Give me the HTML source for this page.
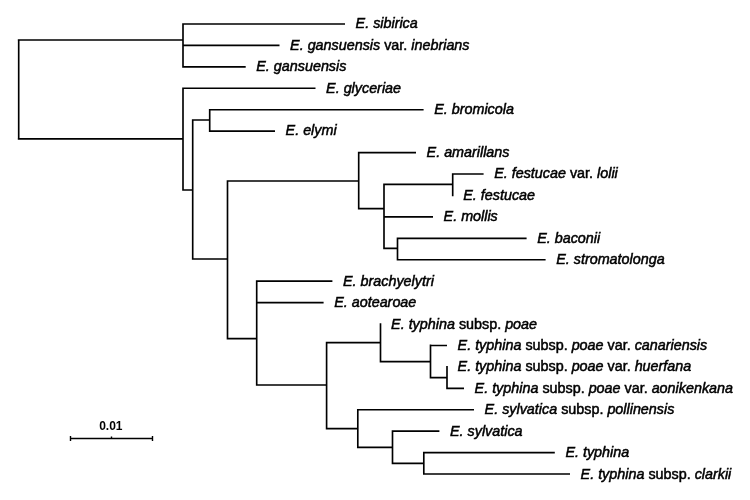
<!DOCTYPE html>
<html><head><meta charset="utf-8"><style>
html,body{margin:0;padding:0;background:#fff;width:750px;height:500px;overflow:hidden}
svg{display:block;will-change:transform}
text{font-family:"Liberation Sans",sans-serif;font-size:14.35px;fill:#000;stroke:#000;stroke-width:0.5}
.i{font-style:italic}
</style></head><body>
<svg width="750" height="500" viewBox="0 0 750 500">
<path d="M18.7 39.17V139.62M17.8 40.00H183.0M17.8 138.80H183.0M183.0 23.18V67.69M183.0 24.00H345.0M183.0 45.43H279.5M183.0 66.86H245.7M183.0 87.46V190.82M183.0 88.29H315.5M183.0 190.00H192.7M192.7 119.17V259.82M192.7 120.00H209.7M209.7 108.89V131.97M209.7 109.72H423.6M209.7 131.15H275.0M192.7 259.00H227.5M227.5 180.18V339.43M227.5 181.00H358.7M358.7 151.75V209.42M358.7 152.58H416.0M358.7 208.60H384.0M384.0 183.58V249.22M384.0 184.40H452.7M452.7 173.19V196.26M452.7 174.01H483.6M384.0 216.87H433.0M384.0 248.40H397.5M397.5 237.48V260.56M397.5 238.30H526.6M397.5 259.73H545.6M227.5 338.60H256.7M256.7 280.33V385.82M256.7 281.16H332.4M256.7 302.59H323.6M256.7 385.00H326.6M326.6 341.78V429.43M326.6 342.60H380.5M380.5 323.19V362.43M380.5 361.60H430.5M430.5 344.62V378.43M430.5 345.45H447.0M430.5 377.60H447.0M447.0 366.06V389.13M447.0 388.31H464.0M326.6 428.60H357.8M357.8 408.92V448.22M357.8 409.74H474.0M357.8 447.40H392.5M392.5 430.35V464.22M392.5 431.17H439.4M392.5 463.40H423.8M423.8 451.78V474.85M423.8 452.60H554.8M423.8 474.03H570.0" stroke="#000" stroke-width="1.65" fill="none"/>
<path d="M70.5 438.5H152.5M70.5 436V441M152.5 436V441M111.5 436.5V438.5" stroke="#000" stroke-width="1.4" fill="none"/>
<text x="99.2" y="430.2" style="font-size:12px;font-weight:bold;stroke:none">0.01</text>
<text x='355.6' y='28.1'><tspan class='i'>E. sibirica</tspan></text>
<text x='290.1' y='49.6'><tspan class='i'>E. gansuensis</tspan> var. <tspan class='i'>inebrians</tspan></text>
<text x='256.3' y='71.0'><tspan class='i'>E. gansuensis</tspan></text>
<text x='326.1' y='92.5'><tspan class='i'>E. glyceriae</tspan></text>
<text x='434.2' y='113.9'><tspan class='i'>E. bromicola</tspan></text>
<text x='285.6' y='135.4'><tspan class='i'>E. elymi</tspan></text>
<text x='426.6' y='156.8'><tspan class='i'>E. amarillans</tspan></text>
<text x='494.2' y='178.3'><tspan class='i'>E. festucae</tspan> var. <tspan class='i'>lolii</tspan></text>
<text x='463.3' y='199.7'><tspan class='i'>E. festucae</tspan></text>
<text x='443.6' y='221.2'><tspan class='i'>E. mollis</tspan></text>
<text x='537.2' y='242.7'><tspan class='i'>E. baconii</tspan></text>
<text x='556.2' y='264.1'><tspan class='i'>E. stromatolonga</tspan></text>
<text x='343.0' y='285.6'><tspan class='i'>E. brachyelytri</tspan></text>
<text x='334.2' y='307.0'><tspan class='i'>E. aotearoae</tspan></text>
<text x='391.1' y='328.5'><tspan class='i'>E. typhina</tspan> subsp. <tspan class='i'>poae</tspan></text>
<text x='457.6' y='349.9'><tspan class='i'>E. typhina</tspan> subsp. <tspan class='i'>poae</tspan> var. <tspan class='i'>canariensis</tspan></text>
<text x='457.6' y='371.4'><tspan class='i'>E. typhina</tspan> subsp. <tspan class='i'>poae</tspan> var. <tspan class='i'>huerfana</tspan></text>
<text x='474.6' y='392.8'><tspan class='i'>E. typhina</tspan> subsp. <tspan class='i'>poae</tspan> var. <tspan class='i'>aonikenkana</tspan></text>
<text x='484.6' y='414.3'><tspan class='i'>E. sylvatica</tspan> subsp. <tspan class='i'>pollinensis</tspan></text>
<text x='450.0' y='435.7'><tspan class='i'>E. sylvatica</tspan></text>
<text x='565.4' y='457.2'><tspan class='i'>E. typhina</tspan></text>
<text x='580.6' y='478.7'><tspan class='i'>E. typhina</tspan> subsp. <tspan class='i'>clarkii</tspan></text>
</svg>
</body></html>
